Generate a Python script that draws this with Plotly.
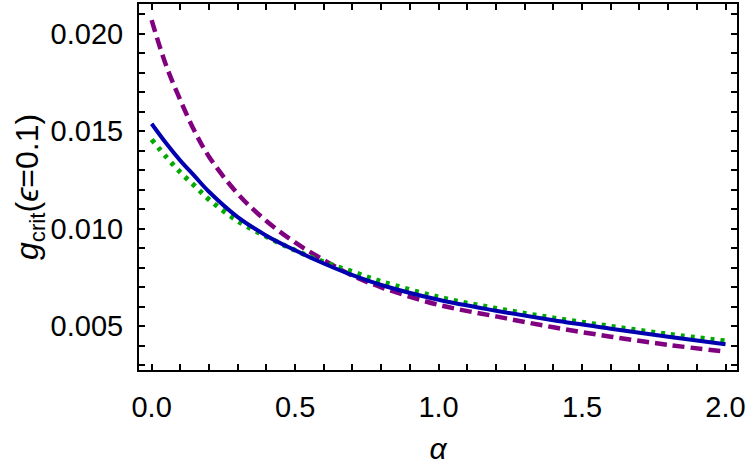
import plotly.graph_objects as go

# alpha grid
alpha = [0.0, 0.05, 0.1, 0.15, 0.2, 0.3, 0.4, 0.5, 0.6, 0.7, 0.8, 1.0, 1.2, 1.4, 1.6, 1.8, 2.0]

g_blue = [0.01539, 0.0144, 0.0135, 0.0127, 0.0119, 0.0106, 0.00965, 0.0089, 0.00822, 0.00762,
          0.00712, 0.00636, 0.0058, 0.00531, 0.00488, 0.00447, 0.00408]
g_purple = [0.0207, 0.0184, 0.0166, 0.0150, 0.0137, 0.0118, 0.0104, 0.0093, 0.0084, 0.0076,
            0.0070, 0.0061, 0.00551, 0.00495, 0.00447, 0.00405, 0.0037]
g_green = [0.01458, 0.0137, 0.0129, 0.0122, 0.0115, 0.0104, 0.0096, 0.0089, 0.0083, 0.0078,
           0.0073, 0.0065, 0.00592, 0.00543, 0.0050, 0.0046, 0.00425]

# tick positions (every minor step) and labels (only at major steps)
x_tickvals = [round(0.1 * i, 1) for i in range(0, 21)]
x_ticktext = [f"{v:.1f}" if i % 5 == 0 else "" for i, v in enumerate(x_tickvals)]
y_tickvals = [round(0.001 * i, 3) for i in range(3, 22)]
y_ticktext = [f"{v:.3f}" if (i + 3) % 5 == 0 else "" for i, v in enumerate(y_tickvals)]

x_range = [-0.044, 2.04]
y_range = [0.00276, 0.02153]

font_main = dict(family="Liberation Sans, Arial", size=29, color="black")

fig = go.Figure()
fig.add_trace(go.Scatter(x=alpha, y=g_purple, mode="lines", line_shape="spline",
                         line=dict(color="#800080", width=4.5, dash="12px,6px")))
fig.add_trace(go.Scatter(x=alpha, y=g_green, mode="lines", line_shape="spline",
                         line=dict(color="#00AA00", width=5, dash="4px,6px")))
fig.add_trace(go.Scatter(x=alpha, y=g_blue, mode="lines", line_shape="spline",
                         line=dict(color="#0000B0", width=4)))

fig.update_layout(
    width=750, height=467,
    margin=dict(l=139, r=13, t=2, b=97),
    paper_bgcolor="white", plot_bgcolor="white",
    showlegend=False,
    font=font_main,
)
fig.update_xaxes(
    range=x_range, tickmode="array", tickvals=x_tickvals, ticktext=x_ticktext,
    showgrid=False, zeroline=False,
    showline=True, linecolor="black", linewidth=2, mirror="allticks",
    ticks="inside", ticklen=6, tickwidth=2, tickcolor="black",
    ticklabelstandoff=10, tickfont=font_main,
    title=dict(text="<i>α</i>", font=dict(family="Liberation Sans, Arial", size=30, color="black"),
               standoff=16),
)
fig.update_yaxes(
    range=y_range, tickmode="array", tickvals=y_tickvals, ticktext=y_ticktext,
    showgrid=False, zeroline=False,
    showline=True, linecolor="black", linewidth=2, mirror="allticks",
    ticks="inside", ticklen=6, tickwidth=2, tickcolor="black",
    ticklabelstandoff=8, tickfont=font_main,
    title=dict(text="<i>g</i><sub>crit</sub>(<i>ϵ</i>=0.1)",
               font=dict(family="Liberation Sans, Arial", size=32, color="black"), standoff=2),
)

fig.write_html("out.html")
